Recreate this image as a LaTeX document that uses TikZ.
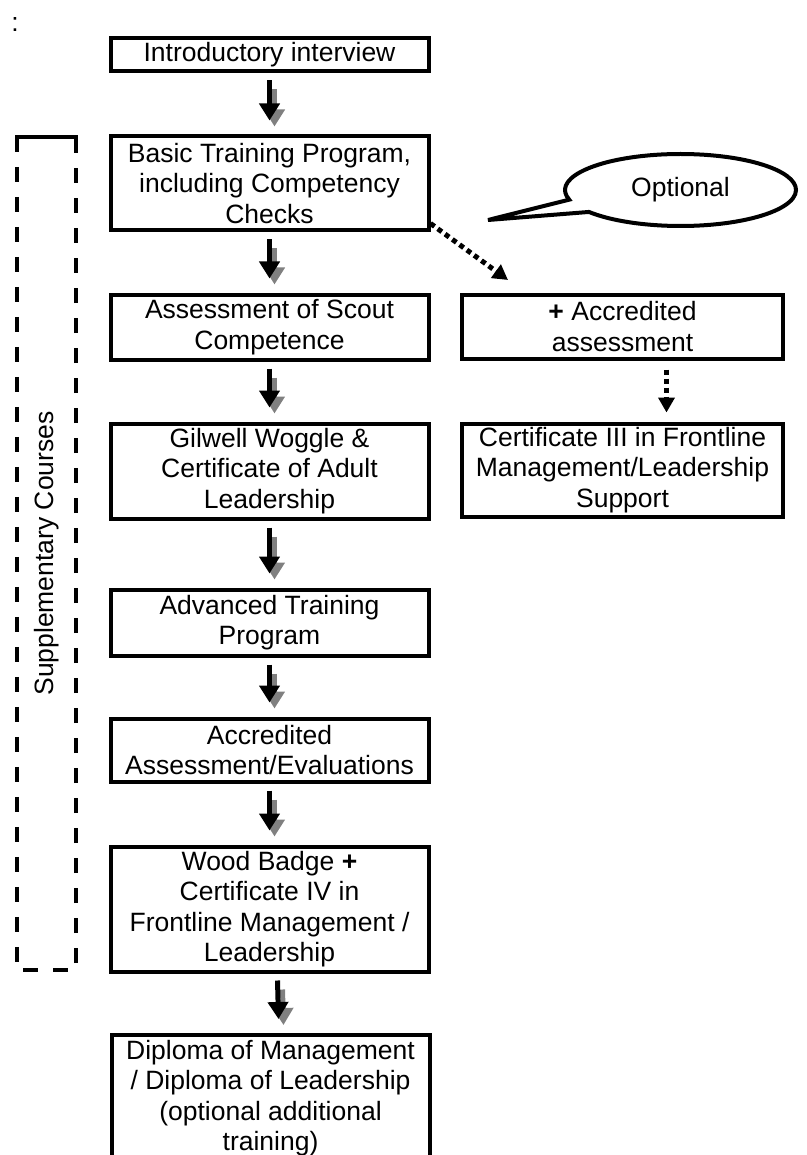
\documentclass[tikz,border=0pt]{standalone}
\usepackage{fontspec}
\setmainfont{Liberation Sans}
\usetikzlibrary{arrows.meta, shapes.callouts, positioning}

\tikzset{
  stagebox/.style={draw, line width=4pt, minimum width=318pt, align=center, inner sep=2pt},
  flowarrow/.style={line width=5pt, -{Triangle[width=20pt,length=17pt]}},
  shadowarrow/.style={flowarrow, gray},
  optarrow/.style={line width=5pt, dash pattern=on 5pt off 4pt, -{Triangle[width=16pt,length=15pt]}},
  optcallout/.style={ellipse callout, draw, line width=4pt, minimum width=231pt, minimum height=72pt,
    callout absolute pointer={(488,220)}, callout pointer arc=22},
  suppbox/.style={minimum width=59pt, minimum height=833pt, inner sep=0pt},
  suppdash/.style={line width=4.5pt, dash pattern=on 15pt off 15pt},
  suppsolid/.style={line width=4.5pt}
}

\begin{document}
\begin{tikzpicture}[x=1pt, y=-1pt, font=\fontsize{26.5}{30.5}\selectfont]
    \useasboundingbox (0,0) rectangle (806,1155);
    \node (colon) at (15,25) {:};

    %Main training path
    \node[stagebox, minimum height=33pt] (intro) at (269.5,55) {Introductory interview};
    \node[stagebox, minimum height=94pt] (basic) at (269.5,183.5) {Basic Training Program,\\including Competency\\Checks};
    \node[stagebox, minimum height=65pt] (assess) at (269.5,327) {Assessment of Scout\\Competence};
    \node[stagebox, minimum height=95pt] (gilwell) at (269.5,471) {Gilwell Woggle \&\\Certificate of Adult\\Leadership};
    \node[stagebox, minimum height=66pt] (advanced) at (269.5,622.5) {Advanced Training\\Program};
    \node[stagebox, minimum height=63pt] (accred) at (269.5,750) {Accredited\\Assessment/Evaluations};
    \node[stagebox, minimum height=125pt] (wood) at (269.5,909) {Wood Badge \textbf{+}\\Certificate IV in\\Frontline Management /\\Leadership};
    \node[stagebox, minimum height=126pt] (diploma) at (270.5,1098) {Diploma of Management\\/ Diploma of Leadership\\(optional additional\\training)};

    %arrows with grey shadow
    \foreach \a/\b/\dx in {intro/basic/0pt, basic/assess/0pt, assess/gilwell/0pt, gilwell/advanced/0pt,
                           advanced/accred/0pt, accred/wood/0pt, wood/diploma/8pt}{
        \draw[shadowarrow] ([xshift=\dx+5pt, yshift=-16pt]\a.south) -- ([xshift=\dx+5pt, yshift=8pt]\b.north);
        \draw[flowarrow] ([xshift=\dx, yshift=-7pt]\a.south) -- ([xshift=\dx, yshift=14pt]\b.north);
    }

    %Optional branch
    \node[stagebox, minimum width=321pt, minimum height=64pt] (rightacc) at (622.5,326.5) {\textbf{+} Accredited\\assessment};
    \node[stagebox, minimum width=321pt, minimum height=93pt] (cert3) at (622.5,470) {Certificate III in Frontline\\Management/Leadership\\Support};
    \node[optcallout] (optional) at (680.5,190) {Optional};
    \coordinate (optend) at (508,280);
    \draw[optarrow] ([yshift=9pt]basic.south east) -- (optend);
    \draw[optarrow] ([xshift=44pt, yshift=-9pt]rightacc.south) -- ([xshift=44pt, yshift=9pt]cert3.north);

    %Supplementary courses bracket
    \node[suppbox] (supp) at (46.5,553.5) {};
    \draw[suppdash] (supp.north west) -- (supp.south west) -- (supp.south east) -- (supp.north east);
    \draw[suppsolid] ([yshift=-15pt]supp.north west) -- (supp.north west) -- (supp.north east) -- ([yshift=-15pt]supp.north east);
    \node[rotate=90] (supplabel) at (supp.center) {Supplementary Courses};
\end{tikzpicture}
\end{document}
